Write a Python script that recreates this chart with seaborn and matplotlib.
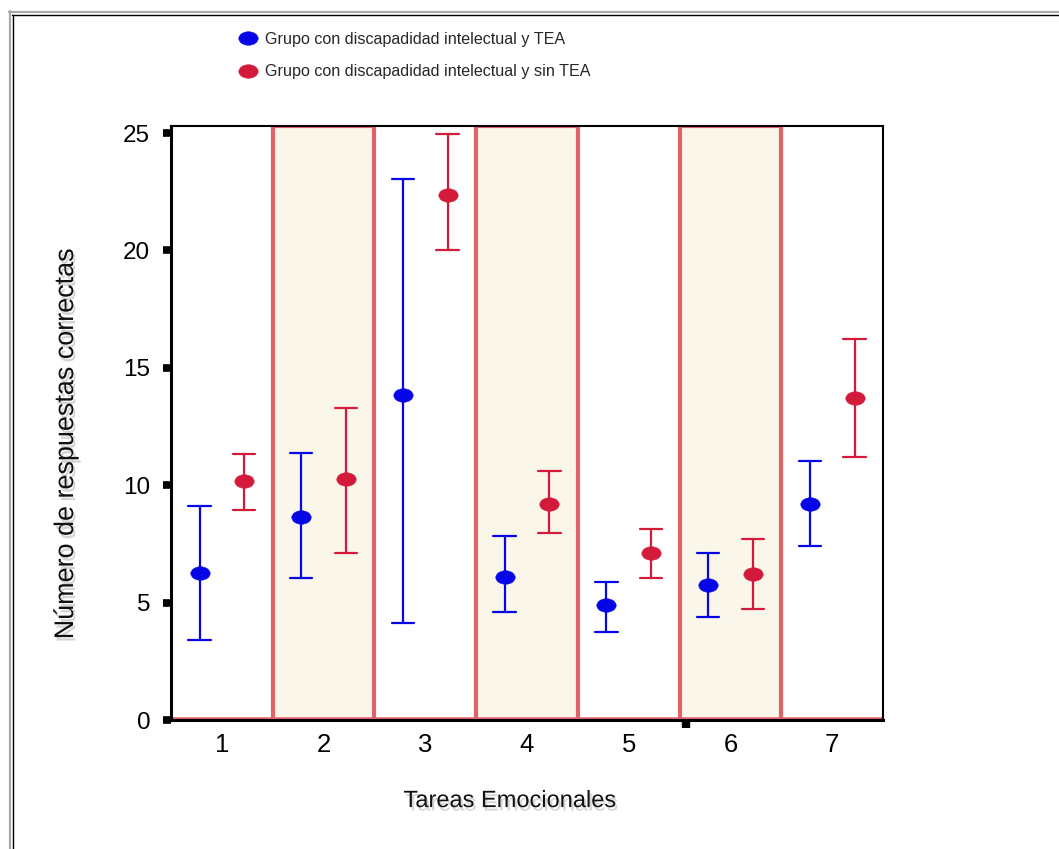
import numpy as np
import pandas as pd
import matplotlib
matplotlib.use("Agg")
import matplotlib.pyplot as plt
import matplotlib.patheffects as pe
from matplotlib.path import Path
from matplotlib.lines import Line2D
from matplotlib import font_manager as fm
import seaborn as sns

# ---------------- data ----------------
tasks = ["1", "2", "3", "4", "5", "6", "7"]
groups = ["Grupo con discapadidad intelectual y TEA",
          "Grupo con discapadidad intelectual y sin TEA"]

tea_mean = [6.28, 8.64, 13.83, 6.10, 4.91, 5.77, 9.22]
tea_low = [3.40, 6.06, 4.14, 4.60, 3.77, 4.37, 7.42]
tea_high = [9.12, 11.39, 23.06, 7.84, 5.86, 7.12, 11.02]

sintea_mean = [10.17, 10.26, 22.35, 9.22, 7.13, 6.23, 13.70]
sintea_low = [8.94, 7.12, 20.01, 7.97, 6.06, 4.72, 11.20]
sintea_high = [11.33, 13.31, 24.94, 10.60, 8.14, 7.73, 16.23]

shaded_tasks = ["2", "4", "6"]
y_ticks = [0, 5, 10, 15, 20, 25]

# long-form table: median of (low, mean, high) = mean, 0-100 percentile interval = (low, high)
rows = []
for g, m_, lo_, hi_ in [(groups[0], tea_mean, tea_low, tea_high),
                        (groups[1], sintea_mean, sintea_low, sintea_high)]:
    for t, m, lo, hi in zip(tasks, m_, lo_, hi_):
        for v in (lo, m, hi):
            rows.append({"Tarea": t, "Grupo": g, "valor": v})
df = pd.DataFrame(rows)

# ---------------- style ----------------
sns.set_style("ticks")
plt.rcParams["font.family"] = ["Liberation Sans", "DejaVu Sans"]

names = {f.name for f in fm.fontManager.ttflist}
if "Liberation Sans Narrow" in names:
    leg_family, leg_size = ["Liberation Sans Narrow", "Liberation Sans"], 14
else:
    leg_family, leg_size = ["Liberation Sans", "DejaVu Sans"], 11.6

BLUE = "#0505e8"
RED = "#d41a3a"
BAND_FACE = "#faf7ea"
BAND_EDGE = "#e0636b"

fig = plt.figure(figsize=(10.59, 8.49), dpi=100)
ax = fig.add_axes([0.1615, 0.1519, 0.6723, 0.6997])

# shaded bands
for i, t in enumerate(tasks):
    if t in shaded_tasks:
        ax.axvspan(i - 0.5, i + 0.5, facecolor=BAND_FACE, edgecolor=BAND_EDGE,
                   linewidth=3, zorder=0.5)
ax.axhline(0, color=BAND_EDGE, linewidth=4, zorder=0.6)

ell = Path.unit_circle().transformed(matplotlib.transforms.Affine2D().scale(1.0, 0.7))

sns.pointplot(data=df, x="Tarea", y="valor", hue="Grupo", order=tasks,
              hue_order=groups, palette={groups[0]: BLUE, groups[1]: RED},
              estimator="median", errorbar=("pi", 100), dodge=0.44,
              capsize=0.22, markers=ell, linestyle="none",
              markersize=14, markeredgewidth=0.3,
              err_kws={"linewidth": 1.6}, legend=False, ax=ax, zorder=3)

ax.set_xlim(-0.5, len(tasks) - 0.5)
ax.set_ylim(0, 25.3)
ax.set_yticks(y_ticks)
ax.set_yticklabels([str(v) for v in y_ticks])

# spines
for s in ["left", "bottom"]:
    ax.spines[s].set_linewidth(2.2)
for s in ["top", "right"]:
    ax.spines[s].set_linewidth(1.5)
for s in ax.spines.values():
    s.set_color("black")
    s.set_visible(True)

ax.tick_params(axis="y", direction="out", length=6, width=5.5, pad=9,
               labelsize=17.5, color="black", labelcolor="black")
ax.tick_params(axis="x", which="major", length=0, pad=9, labelsize=18.5,
               labelcolor="black")
ax.set_xticks([2, 4.56], minor=True)
ax.tick_params(axis="x", which="minor", direction="out", length=6, width=6,
               color="black")

shadow = [pe.SimplePatchShadow(offset=(1.5, -2.5), shadow_rgbFace="#888888", alpha=0.35),
          pe.Normal()]
ax.set_xlabel("Tareas Emocionales", fontsize=17, color="#111111",
              va="baseline", path_effects=shadow)
ax.xaxis.set_label_coords(0.476, -0.1465)
ax.set_ylabel("Número de respuestas correctas", fontsize=19.4, color="#111111",
              path_effects=shadow)
ax.yaxis.label.set_va("baseline")
ax.yaxis.set_label_coords(-0.1376, 0.4646)

# legend
handles = [Line2D([], [], marker=ell, markersize=14, linestyle="none",
                  color=c, markeredgewidth=0.3) for c in (BLUE, RED)]
fig.legend(handles, groups, loc="upper left", bbox_to_anchor=(0.2255, 0.9626),
           frameon=False, borderpad=0, borderaxespad=0, handlelength=1.2,
           handletextpad=0.45, labelspacing=1.1,
           prop={"family": leg_family, "size": leg_size})

# page frame (double line, top and left)
W, H = 1059, 849
fig.add_artist(Line2D([9 / W, 1], [1 - 12 / H, 1 - 12 / H], transform=fig.transFigure,
                      color="#aaaaaa", linewidth=1.6))
fig.add_artist(Line2D([12 / W, 1], [1 - 14.5 / H, 1 - 14.5 / H], transform=fig.transFigure,
                      color="black", linewidth=1.0))
fig.add_artist(Line2D([9.5 / W, 9.5 / W], [0, 1 - 11 / H], transform=fig.transFigure,
                      color="#aaaaaa", linewidth=1.6))
fig.add_artist(Line2D([12.5 / W, 12.5 / W], [0, 1 - 14.5 / H], transform=fig.transFigure,
                      color="black", linewidth=1.0))

fig.savefig("out.png", dpi=100)
